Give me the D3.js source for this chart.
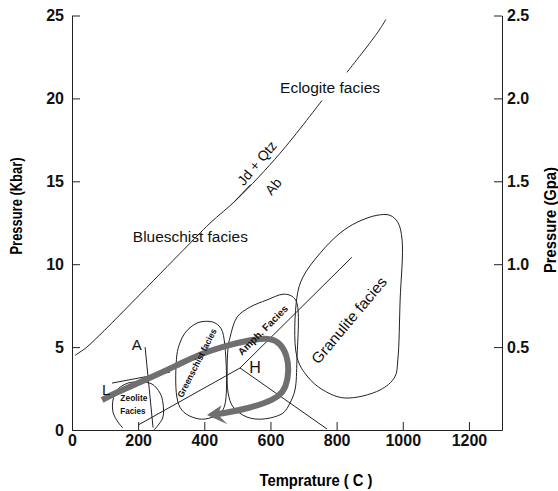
<!DOCTYPE html>
<html>
<head>
<meta charset="utf-8">
<script src="https://cdn.jsdelivr.net/npm/d3@7"></script>
<style>
  body { margin: 0; background: #fff; }
  svg { font-family: "Liberation Sans", Arial, sans-serif; }
  .axis text { font-size: 16px; font-weight: bold; fill: #111; }
  .axis path, .axis line { stroke: #222; }
  .edge { fill: none; stroke: #222; stroke-width: 1; }
</style>
</head>
<body>
<svg id="chart" width="558" height="491"></svg>
<script>
// tick values
const tempTicks = [0, 200, 400, 600, 800, 1000, 1200];
const kbarTicks = [0, 5, 10, 15, 20, 25];
const gpaTicks = [0.5, 1.0, 1.5, 2.0, 2.5];

// [temperature C, pressure kbar]
const blueschistLow = [[9, 4.5], [24, 4.7], [45, 5.0], [336, 10.84], [417, 12.47], [499, 13.92], [629, 16.69], [756, 19.88]];
const blueschistHigh = [[831, 21.57], [922, 23.92], [949, 24.76]];
const jdMark = [[492, 13.8], [540, 14.8]];
const reaction = [[200, 0.3], [508, 3.74], [846, 10.42]];
const hLine = [[508, 3.74], [771, 0.06]];
const lineA = [[221, 5.0], [245, 0.15]];
const lineL = [[121, 2.83], [296, 3.49]];

const zeolite = [[154, 0.12], [139, 0.48], [124, 1.08], [124, 1.81], [136, 2.41], [169, 2.83], [206, 2.89],
  [242, 2.77], [266, 2.23], [275, 1.63], [275, 0.78], [263, 0.36], [248, 0]];
const greenschist = [[363, 6.27], [387, 6.51], [426, 6.51], [450, 6.14], [462, 5.12], [462, 1.51], [447, 1.02],
  [402, 0.66], [363, 0.78], [332, 1.2], [317, 1.99], [317, 4.52], [326, 5.24], [341, 5.84]];
const amphibolite = [[478, 5.6], [499, 6.81], [538, 7.41], [589, 7.84], [638, 8.19], [665, 8.07], [680, 7.65],
  [680, 4.22], [674, 2.41], [659, 1.63], [638, 1.02], [577, 0.66], [529, 0.78], [487, 1.39], [472, 2.23],
  [469, 3.61], [472, 5.0]];
const granulite = [[922, 12.95], [961, 12.95], [985, 12.53], [998, 11.45], [992, 7.84], [985, 4.22], [976, 3.2],
  [931, 2.41], [825, 1.93], [759, 2.41], [713, 3.2], [680, 4.4], [680, 8.01], [698, 9.22], [750, 10.66],
  [810, 11.87], [862, 12.53]];

const ptPath = [[91, 1.81], [130, 2.23], [221, 3.01], [320, 3.92], [387, 4.6], [487, 5.2], [553, 5.48],
  [600, 5.54], [630, 5.24], [650, 4.52], [656, 3.61], [648, 2.59], [625, 1.99], [580, 1.6], [529, 1.3],
  [478, 1.08], [440, 0.96]];
const arrowHead = [[408, 0.9], [452, 1.5], [441, 0.92], [470, 0.35]];

const svg = d3.select("#chart");

const x = d3.scaleLinear().domain([0, 1300]).range([72, 502]);
const y = d3.scaleLinear().domain([0, 25]).range([430, 15.5]);
const yG = d3.scaleLinear().domain([0, 2.5]).range([430, 15.5]);

// axes, ticks pointing inward
svg.append("g")
  .attr("class", "axis")
  .attr("transform", "translate(0,430)")
  .call(d3.axisBottom(x).tickValues(tempTicks).tickFormat(d3.format("d")).tickSize(-8).tickSizeOuter(0).tickPadding(5));

svg.append("g")
  .attr("class", "axis")
  .attr("transform", "translate(72,0)")
  .call(d3.axisLeft(y).tickValues(kbarTicks).tickSize(-8).tickSizeOuter(0).tickPadding(8));

svg.append("g")
  .attr("class", "axis")
  .attr("transform", "translate(502,0)")
  .call(d3.axisRight(yG).tickValues(gpaTicks).tickFormat(d3.format(".1f")).tickSize(-8).tickSizeOuter(0).tickPadding(5));

// axis titles
svg.append("text")
  .attr("transform", "translate(22,206) rotate(-90)")
  .attr("text-anchor", "middle")
  .attr("font-size", 16).attr("font-weight", "bold")
  .attr("textLength", 97).attr("lengthAdjust", "spacingAndGlyphs")
  .text("Pressure (Kbar)");

svg.append("text")
  .attr("transform", "translate(556,220) rotate(-90)")
  .attr("text-anchor", "middle")
  .attr("font-size", 16).attr("font-weight", "bold")
  .attr("textLength", 106).attr("lengthAdjust", "spacingAndGlyphs")
  .text("Pressure (Gpa)");

svg.append("text")
  .attr("x", 316).attr("y", 486)
  .attr("text-anchor", "middle")
  .attr("font-size", 16).attr("font-weight", "bold")
  .attr("textLength", 113).attr("lengthAdjust", "spacingAndGlyphs")
  .text("Temprature ( C )");

const line = d3.line().x(d => x(d[0])).y(d => y(d[1]));
const smooth = d3.line().x(d => x(d[0])).y(d => y(d[1])).curve(d3.curveCatmullRom);
const soft = d3.line().x(d => x(d[0])).y(d => y(d[1])).curve(d3.curveBasis);
const closed = d3.line().x(d => x(d[0])).y(d => y(d[1])).curve(d3.curveCatmullRomClosed);

// facies boundaries
svg.append("path").attr("class", "edge").attr("d", smooth(blueschistLow));
svg.append("path").attr("class", "edge").attr("d", smooth(blueschistHigh));
svg.append("path").attr("class", "edge").attr("stroke-width", 2.5).attr("d", line(jdMark));
svg.append("path").attr("class", "edge").attr("d", line(reaction));
svg.append("path").attr("class", "edge").attr("d", line(hLine));
svg.append("path").attr("class", "edge").attr("d", line(lineA));
svg.append("path").attr("class", "edge").attr("d", line(lineL));
svg.append("path").attr("class", "edge").attr("d", smooth(zeolite));
[greenschist, amphibolite, granulite].forEach(g => {
  svg.append("path").attr("class", "edge").attr("d", closed(g));
});

// P-T path
svg.append("path")
  .attr("d", soft(ptPath))
  .attr("fill", "none")
  .attr("stroke", "#6f6f6f")
  .attr("stroke-width", 6)
  .attr("stroke-linecap", "butt");
svg.append("path")
  .attr("d", line(arrowHead) + "Z")
  .attr("fill", "#6f6f6f");

// labels
function label(t, p, txt, opts) {
  const o = Object.assign({ size: 14, weight: "normal", rot: 0, anchor: "middle", len: null }, opts);
  const el = svg.append("text")
    .attr("transform", `translate(${x(t)},${y(p)}) rotate(${o.rot})`)
    .attr("text-anchor", o.anchor)
    .attr("dominant-baseline", "central")
    .attr("font-size", o.size)
    .attr("font-weight", o.weight)
    .attr("fill", "#111")
    .text(txt);
  if (o.len) el.attr("textLength", o.len).attr("lengthAdjust", "spacingAndGlyphs");
  return el;
}

label(629, 20.6, "Eclogite facies", { anchor: "start", len: 100 });
label(184, 11.65, "Blueschist facies", { anchor: "start", len: 115 });
label(559, 16.1, "Jd + Qtz", { rot: -50, size: 14 });
label(608, 14.7, "Ab", { rot: -50, size: 14 });
label(196, 5.18, "A", { size: 15 });
label(103, 2.47, "L", { size: 15 });
label(553, 3.74, "H", { size: 16 });
label(187, 1.93, "Zeolite", { size: 9, weight: "bold", len: 27 });
label(184, 1.14, "Facies", { size: 9, weight: "bold", len: 25 });
label(378, 4.04, "Greenschist facies", { rot: -63, size: 9, weight: "bold", len: 76 });
label(577, 6.02, "Amph. Facies", { rot: -45, size: 10, weight: "bold", len: 66 });
label(837, 6.63, "Granulite facies", { rot: -50, size: 15, len: 108 });
</script>
</body>
</html>
